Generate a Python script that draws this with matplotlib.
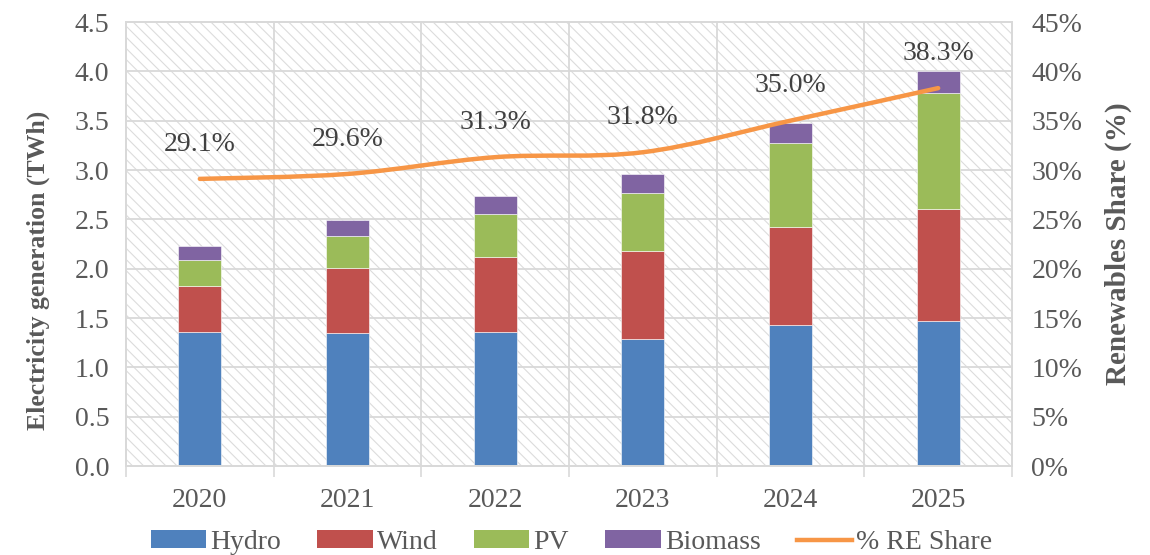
import matplotlib
matplotlib.use("Agg")
import matplotlib.pyplot as plt
import numpy as np
from matplotlib.patches import Rectangle, Patch, PathPatch
from matplotlib.lines import Line2D
from matplotlib.path import Path
from matplotlib.transforms import IdentityTransform
from matplotlib.ticker import FuncFormatter, MultipleLocator

years = ["2020", "2021", "2022", "2023", "2024", "2025"]
hydro = [1.36, 1.35, 1.36, 1.29, 1.43, 1.47]
wind = [0.46, 0.66, 0.76, 0.89, 0.99, 1.13]
pv = [0.27, 0.32, 0.43, 0.59, 0.85, 1.18]
biomass = [0.14, 0.16, 0.19, 0.19, 0.21, 0.22]
re_share = [29.1, 29.6, 31.3, 31.8, 35.0, 38.3]
series_names = ["Hydro", "Wind", "PV", "Biomass"]
line_name = "% RE Share"
colors = ["#4F81BD", "#C0504D", "#9BBB59", "#8064A2"]
line_color = "#F79646"

plt.rcParams['font.family'] = ['Liberation Serif', 'DejaVu Serif']
plt.rcParams['hatch.linewidth'] = 0.8
txt = "#595959"
grid_c = "#d9d9d9"

fig = plt.figure(figsize=(11.5, 5.55), dpi=100)
ax = fig.add_axes([126/1150, 89/555, (1012-126)/1150, (466-22)/555])

# hatched background
bg = Rectangle((0, 0), 1, 1, transform=ax.transAxes, facecolor="white",
               edgecolor="#dcdcdc", hatch="\\\\\\", linewidth=0, zorder=0.1)
ax.add_patch(bg)

x = np.arange(len(years))
w = 0.29
bottom = np.zeros(len(years))
for vals, c, n in zip([hydro, wind, pv, biomass], colors, series_names):
    ax.bar(x, vals, w, bottom=bottom, color=c, edgecolor="white", linewidth=0.4, zorder=2, label=n)
    bottom += np.array(vals)

ax.set_xlim(-0.5, len(years) - 0.5)
ax.set_ylim(0, 4.5)
ax.yaxis.set_major_locator(MultipleLocator(0.5))
ax.yaxis.set_major_formatter(FuncFormatter(lambda v, p: f"{v:.1f}"))
ax.set_xticks(x)
ax.set_xticklabels(years)
ax.set_xticks(np.arange(-0.5, len(years), 1.0), minor=True)
ax.tick_params(axis='x', which='major', length=0, pad=16, labelsize=20, labelcolor=txt)
ax.tick_params(axis='x', which='minor', length=8, width=1.2, color=grid_c)
ax.tick_params(axis='y', length=0, pad=12, labelsize=20, labelcolor=txt)
ax.grid(True, axis='y', color=grid_c, linewidth=1.3, zorder=0.5)
ax.grid(True, axis='x', which='minor', color=grid_c, linewidth=1.3, zorder=0.5)
ax.grid(False, axis='x', which='major')
ax.set_axisbelow(True)
for s in ax.spines.values():
    s.set_color(grid_c)
    s.set_linewidth(1.3)
ax.set_ylabel("Electricity generation (TWh)", fontsize=18.5, fontweight='bold', color=txt)
ax.yaxis.set_label_coords(-0.086, 0.44)

ax2 = ax.twinx()
ax2.set_ylim(0, 45)
ax2.yaxis.set_major_locator(MultipleLocator(5))
ax2.yaxis.set_major_formatter(FuncFormatter(lambda v, p: f"{v:.0f}%"))
ax2.tick_params(axis='y', length=0, pad=14, labelsize=20, labelcolor=txt)
for s in ax2.spines.values():
    s.set_color(grid_c)
    s.set_linewidth(1.3)
ax2.set_ylabel("Renewables Share (%)", fontsize=21, fontweight='bold', color=txt)
ax2.yaxis.set_label_coords(1.105, 0.5)

# smoothed line (Catmull-Rom style Bezier in display space)
pts = ax2.transData.transform(np.column_stack([x, re_share]))
verts = [pts[0]]
codes = [Path.MOVETO]
n = len(pts)
for i in range(n - 1):
    p0 = pts[i - 1] if i > 0 else pts[i]
    p1 = pts[i]
    p2 = pts[i + 1]
    p3 = pts[i + 2] if i + 2 < n else pts[i + 1]
    c1 = p1 + (p2 - p0) / 6.0
    c2 = p2 - (p3 - p1) / 6.0
    verts += [c1, c2, p2]
    codes += [Path.CURVE4] * 3
path = Path(verts, codes)
ax2.add_patch(PathPatch(path, transform=IdentityTransform(), facecolor='none',
                        edgecolor=line_color, linewidth=3.2, capstyle='round', zorder=3))

for xi, v in zip(x, re_share):
    ax2.annotate(f"{v:.1f}%", (xi, v), xytext=(0, 25), textcoords='offset points',
                 ha='center', va='center', fontsize=20, color="#404040")

handles = [Patch(facecolor=c, edgecolor='none') for c in colors]
handles.append(Line2D([0], [0], color=line_color, linewidth=3.2))
fig.legend(handles, series_names + [line_name], loc='lower center', ncol=5,
           bbox_to_anchor=(0.497, -0.045), frameon=False, fontsize=20,
           handlelength=2.0, handleheight=0.6, handletextpad=0.15, columnspacing=1.3,
           labelcolor=txt)

fig.savefig("out.png", dpi=100)
